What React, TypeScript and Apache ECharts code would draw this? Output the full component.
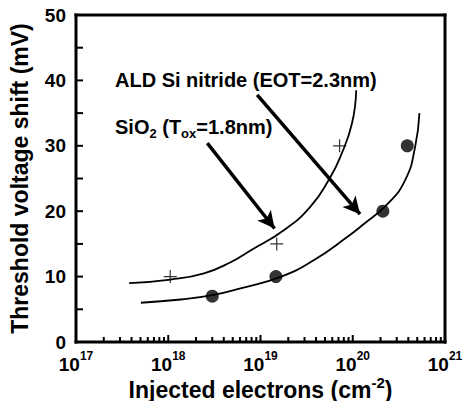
import React, { useEffect, useRef } from 'react';
import * as echarts from 'echarts';

const FONT = '"Liberation Sans", Arial, Helvetica, sans-serif';

// Axis ranges / ticks
const X_MIN = 1e17;
const X_MAX = 1e21;
const Y_MIN = 0;
const Y_MAX = 50;
const Y_INTERVAL = 10;
const Y_TICK_VALUES = [5, 10, 15, 20, 25, 30, 35, 40, 45];
const X_MAJOR_TICKS = [1e18, 1e19, 1e20];
const MINOR_DECADES = [1e17, 1e18, 1e19, 1e20];
const MINOR_MULTIPLIERS = [2, 3, 4, 5, 6, 7, 8, 9];

// Measured points
const SIO2_POINTS: [number, number][] = [
  [1.05e18, 10],
  [1.5e19, 15],
  [7.2e19, 30],
];
const ALD_POINTS: [number, number][] = [
  [3.0e18, 7],
  [1.47e19, 10],
  [2.12e20, 20],
  [3.9e20, 30],
];

// Fitted curves (traced)
const SIO2_CURVE: [number, number][] = [
  [3.77e17, 9.0],
  [1.06e18, 9.55],
  [2.44e18, 10.5],
  [4.74e18, 12.2],
  [7.8e18, 14.0],
  [1.79e19, 17.1],
  [3.48e19, 20.7],
  [5.71e19, 25.2],
  [7.33e19, 28.3],
  [9.8e19, 33.4],
  [1.09e20, 38.5],
];
const ALD_CURVE: [number, number][] = [
  [5.05e17, 6.0],
  [1.37e18, 6.5],
  [3.0e18, 7.15],
  [6.08e18, 8.2],
  [1.65e19, 9.95],
  [3.77e19, 12.5],
  [9.0e19, 16.2],
  [1.31e20, 18.0],
  [2.34e20, 21.0],
  [3.7e20, 24.75],
  [4.74e20, 29.8],
  [5.28e20, 35.0],
];

// Annotation arrows (data coordinates: start -> tip)
const ALD_ARROW: [number, number][] = [
  [9.2e18, 37.8],
  [1.2e20, 19.55],
];
const SIO2_ARROW: [number, number][] = [
  [2.65e18, 30.4],
  [1.42e19, 17.35],
];

const ALD_LABEL = 'ALD Si nitride (EOT=2.3nm)';
const SIO2_LABEL = '{m|SiO}{s|2}{m| (T}{s|ox}{m|=1.8nm)}';
const X_TITLE = '{n|Injected electrons (cm}{s|-2}{n|)}';
const Y_TITLE = 'Threshold voltage shift (mV)';

export default function App() {
  const ref = useRef<HTMLDivElement>(null);

  useEffect(() => {
    document.body.style.margin = '0';
    if (!ref.current) return;
    const chart = echarts.init(ref.current, undefined, { renderer: 'svg' });

    const minorTicks: number[] = [];
    MINOR_DECADES.forEach((d) => MINOR_MULTIPLIERS.forEach((m) => minorTicks.push(d * m)));

    const bar = (x: number, y: number, w: number, h: number) => ({
      type: 'rect',
      shape: { x, y, width: w, height: h },
      style: { fill: '#000', stroke: null, lineWidth: 0 },
    });

    const frameRender = (_params: any, api: any) => {
      const tl = api.coord([X_MIN, Y_MAX]);
      const br = api.coord([X_MAX, Y_MIN]);
      const children: any[] = [];
      const T = 3; // frame thickness
      const h = T / 2;
      // frame
      children.push(bar(tl[0] - h, tl[1] - h, br[0] - tl[0] + T, T)); // top
      children.push(bar(tl[0] - h, br[1] - h, br[0] - tl[0] + T, T)); // bottom
      children.push(bar(tl[0] - h, tl[1] - h, T, br[1] - tl[1] + T)); // left
      children.push(bar(br[0] - h, tl[1] - h, T, br[1] - tl[1] + T)); // right
      // y ticks (inside)
      Y_TICK_VALUES.forEach((v) => {
        const p = api.coord([X_MIN, v]);
        children.push(bar(p[0], p[1] - 1, 7, 2));
      });
      // x major ticks (inside)
      X_MAJOR_TICKS.forEach((v) => {
        const p = api.coord([v, Y_MIN]);
        children.push(bar(p[0] - 1, p[1] - 7, 2, 7));
      });
      // x minor ticks (inside)
      minorTicks.forEach((v) => {
        const p = api.coord([v, Y_MIN]);
        children.push(bar(p[0] - 1, p[1] - 5, 2, 5));
      });
      return { type: 'group', children };
    };

    const option: any = {
      animation: false,
      backgroundColor: '#fff',
      grid: {
        left: 76,
        right: 19,
        top: 15,
        bottom: 59,
        show: false,
        containLabel: false,
        outerBoundsMode: 'none',
      },
      xAxis: {
        type: 'log',
        logBase: 10,
        min: X_MIN,
        max: X_MAX,
        name: X_TITLE,
        nameLocation: 'middle',
        nameGap: 33,
        nameMoveOverlap: false,
        nameTextStyle: {
          rich: {
            n: { fontFamily: FONT, fontSize: 23, fontWeight: 'bold', color: '#000', lineHeight: 26, verticalAlign: 'bottom' },
            s: { fontFamily: FONT, fontSize: 15, fontWeight: 'bold', color: '#000', lineHeight: 12, verticalAlign: 'top' },
          },
        },
        axisLine: { show: false },
        axisTick: { show: false },
        minorTick: { show: false },
        splitLine: { show: false },
        axisLabel: {
          margin: 8,
          formatter: (v: number) => `{a|10}{b|${Math.round(Math.log10(v))}}`,
          rich: {
            a: { fontFamily: FONT, fontSize: 19, fontWeight: 'bold', color: '#000', lineHeight: 24, verticalAlign: 'bottom' },
            b: { fontFamily: FONT, fontSize: 12, fontWeight: 'bold', color: '#000', lineHeight: 5, verticalAlign: 'top' },
          },
        },
      },
      yAxis: {
        type: 'value',
        min: Y_MIN,
        max: Y_MAX,
        interval: Y_INTERVAL,
        name: Y_TITLE,
        nameLocation: 'middle',
        nameGap: 45,
        nameMoveOverlap: false,
        nameTextStyle: { fontFamily: FONT, fontSize: 23, fontWeight: 'bold', color: '#000' },
        axisLine: { show: false },
        axisTick: { show: false },
        minorTick: { show: false },
        splitLine: { show: false },
        minorSplitLine: { show: false },
        axisLabel: { margin: 10, fontFamily: FONT, fontSize: 19, fontWeight: 'bold', color: '#000' },
      },
      graphic: [
        {
          type: 'text',
          x: 115,
          y: 80,
          silent: true,
          style: {
            text: ALD_LABEL,
            fontFamily: FONT,
            fontSize: 20,
            fontWeight: 'bold',
            fill: '#000',
            align: 'left',
            verticalAlign: 'middle',
          },
        },
        {
          type: 'text',
          x: 115,
          y: 127,
          silent: true,
          style: {
            text: SIO2_LABEL,
            fill: '#000',
            align: 'left',
            verticalAlign: 'middle',
            rich: {
              m: { fontFamily: FONT, fontSize: 20, fontWeight: 'bold', fill: '#000', lineHeight: 20, verticalAlign: 'top' },
              s: {
                fontFamily: FONT,
                fontSize: 13,
                fontWeight: 'bold',
                fill: '#000',
                lineHeight: 2,
                verticalAlign: 'top',
                padding: [10, 0, 0, 0],
              },
            },
          },
        },
      ],
      series: [
        {
          type: 'line',
          data: SIO2_CURVE,
          smooth: 0.5,
          showSymbol: false,
          silent: true,
          lineStyle: { color: '#000', width: 1.8 },
          z: 2,
        },
        {
          type: 'line',
          data: ALD_CURVE,
          smooth: 0.5,
          showSymbol: false,
          silent: true,
          lineStyle: { color: '#000', width: 1.8 },
          z: 2,
        },
        {
          type: 'scatter',
          data: SIO2_POINTS,
          symbol: 'path://M0,6H12M6,0V12',
          symbolSize: 13,
          silent: true,
          itemStyle: { color: 'transparent', borderColor: '#000', borderWidth: 1.2 },
          z: 3,
          markLine: {
            silent: true,
            symbol: ['none', 'arrow'],
            symbolSize: [13, 17],
            label: { show: false },
            lineStyle: { color: '#000', width: 3.5, type: 'solid' },
            data: [
              [{ coord: ALD_ARROW[0] }, { coord: ALD_ARROW[1] }],
              [{ coord: SIO2_ARROW[0] }, { coord: SIO2_ARROW[1] }],
            ],
          },
        },
        {
          type: 'scatter',
          data: ALD_POINTS,
          symbol: 'circle',
          symbolSize: 13,
          silent: true,
          itemStyle: { color: '#000' },
          z: 3,
        },
        {
          type: 'custom',
          data: [[X_MIN, Y_MIN]],
          silent: true,
          clip: false,
          z: 10,
          renderItem: frameRender,
        },
      ],
    };

    chart.setOption(option);
    return () => chart.dispose();
  }, []);

  return <div ref={ref} style={{ width: 464, height: 401 }} />;
}
